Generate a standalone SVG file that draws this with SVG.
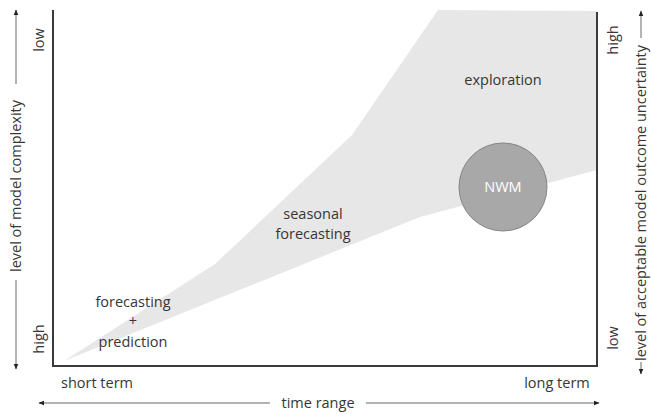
<svg xmlns="http://www.w3.org/2000/svg" width="651" height="414" viewBox="0 0 651 414">
  <defs>
    <marker id="tip" viewBox="0 0 10 10" refX="9" refY="5" markerWidth="6" markerHeight="6" orient="auto-start-reverse" markerUnits="userSpaceOnUse">
      <path d="M0,1 L10,5 L0,9 z" fill="#222"/>
    </marker>
    <style>
      text { font-family: "Open Sans", "Noto Sans", sans-serif; font-size: 14.5px; fill: #363636; text-anchor: middle; }
      .frame { fill: none; stroke: #3a3a3a; stroke-width: 2; }
      .axis { fill: none; stroke: #666; stroke-width: 1; }
      .region { fill: #e7e7e7; stroke: none; }
    </style>
  </defs>
  <rect width="651" height="414" fill="#ffffff"/>

  <!-- application domain band -->
  <g id="band">
    <path class="region" d="M64,361 L215,264 L352,135 L438,10 L597,11 L597,170 L420,217 Z"/>
  </g>

  <!-- plot frame (left, bottom, right) -->
  <g id="frame">
    <path class="frame" d="M53,10 L53,366 L597,366 L597,12"/>
  </g>

  <g id="nwm">
    <circle cx="503" cy="187" r="44" fill="#a8a8a8" stroke="#858585" stroke-width="1"/>
    <text x="503" y="192" style="fill:#ffffff">NWM</text>
  </g>

  <g id="exploration"><text x="503" y="85">exploration</text></g>
  <g id="seasonal">
    <text x="313" y="219">seasonal</text>
    <text x="313" y="239">forecasting</text>
  </g>
  <g id="forecasting">
    <text x="133" y="307">forecasting</text>
    <text x="133" y="326">+</text>
    <text x="133" y="347">prediction</text>
  </g>

  <g id="x-labels">
    <text x="97" y="388">short term</text>
    <text x="557" y="388">long term</text>
    <text x="318" y="408">time range</text>
  </g>

  <g id="y-left-labels">
    <text transform="translate(44,40) rotate(-90)">low</text>
    <text transform="translate(44,339) rotate(-90)">high</text>
    <text transform="translate(21,186) rotate(-90)">level of model complexity</text>
  </g>

  <g id="y-right-labels">
    <text transform="translate(618,40) rotate(-90)">high</text>
    <text transform="translate(618,338) rotate(-90)">low</text>
    <text transform="translate(646,203) rotate(-90)">level of acceptable model outcome uncertainty</text>
  </g>

  <!-- axis arrows -->
  <g id="connectors">
    <line class="axis" x1="16" y1="84" x2="16" y2="10" marker-end="url(#tip)"/>
    <line class="axis" x1="16" y1="280" x2="16" y2="369" marker-end="url(#tip)"/>
    <line class="axis" x1="270" y1="403" x2="39" y2="403" marker-end="url(#tip)"/>
    <line class="axis" x1="366" y1="403" x2="599" y2="403" marker-end="url(#tip)"/>
    <line class="axis" x1="641" y1="38" x2="641" y2="11" marker-end="url(#tip)"/>
    <line class="axis" x1="641" y1="362" x2="641" y2="374" marker-end="url(#tip)"/>
  </g>
</svg>
